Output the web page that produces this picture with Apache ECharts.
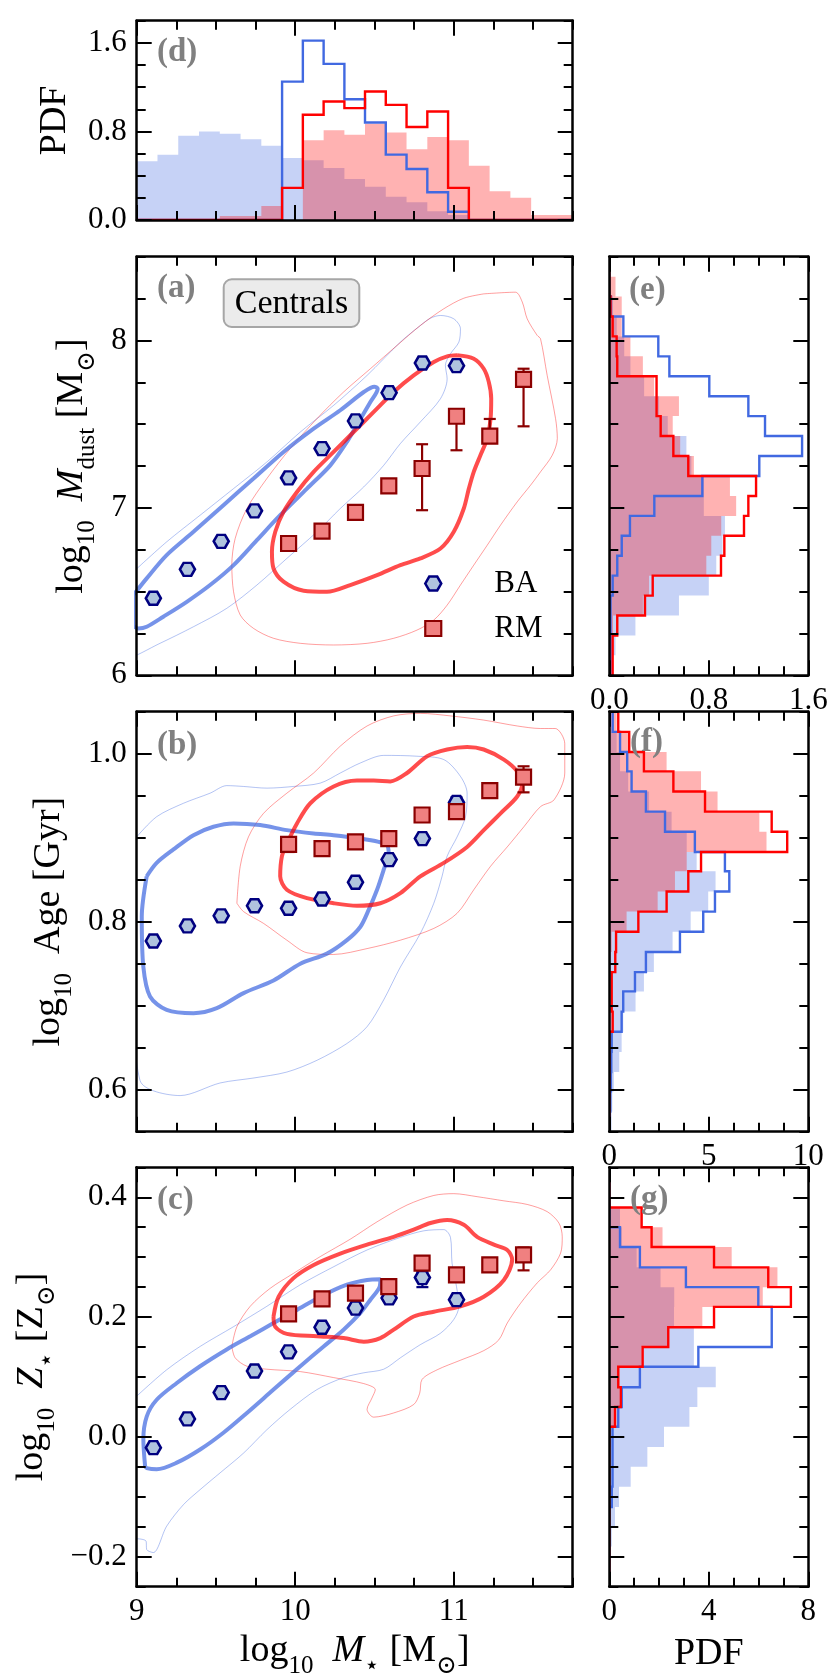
<!DOCTYPE html>
<html><head><meta charset="utf-8">
<script src="https://cdn.jsdelivr.net/npm/echarts@6/dist/echarts.min.js"></script>
<style>html,body{margin:0;padding:0;background:#fff}#chart{width:831px;height:1680px}</style>
</head><body><div id="chart"></div>
<script>
// ================= DATA =================
// stellar-mass bin centres of the binned medians
const massBA = [9.105, 9.32, 9.533, 9.743, 9.958, 10.169, 10.38, 10.592, 10.802, 11.017];
const massRM = [9.958, 10.169, 10.38, 10.59, 10.80, 11.017, 11.227, 11.44];
// (a) dust mass
const dustBA = [6.46, 6.633, 6.80, 6.982, 7.179, 7.354, 7.519, 7.688, 7.865, 7.849];
const dustRM = [6.787, 6.861, 6.973, 7.131, 7.235, 7.547, 7.428, 7.767];
const dustRMLo = [null, null, null, null, 6.986, 7.344, 7.40, 7.487];
const dustRMHi = [null, null, null, null, 7.38, 7.59, 7.531, 7.831];
// (b) age
const ageBA = [0.777, 0.795, 0.807, 0.819, 0.816, 0.827, 0.847, 0.874, 0.899, 0.942];
const ageBALo = [null, null, null, null, null, null, null, null, null, 0.936];
const ageBAHi = [null, null, null, null, null, null, null, null, null, 0.948];
const ageRM = [0.892, 0.887, 0.895, 0.899, 0.927, 0.931, 0.956, 0.972];
const ageRMLo = [0.883, null, null, null, null, null, null, 0.954];
const ageRMHi = [0.900, null, null, null, null, null, null, 0.985];
// (c) metallicity
const zBA = [-0.018, 0.030, 0.074, 0.110, 0.142, 0.183, 0.215, 0.232, 0.266, 0.229];
const zBALo = [null, null, null, null, null, null, null, null, 0.25, null];
const zBAHi = [null, null, null, null, null, null, null, null, 0.275, null];
const zRM = [0.2055, 0.2305, 0.24, 0.251, 0.29, 0.2705, 0.2872, 0.3038];
const zRMLo = [null, null, null, null, null, null, null, 0.278];
const zRMHi = [null, null, null, null, null, null, null, 0.316];

// histogram bin edges
const massEdges = [9.000,9.131,9.262,9.393,9.524,9.655,9.786,9.917,10.048,10.179,10.310,10.440,10.571,10.702,10.833,10.964,11.095,11.226,11.357,11.488,11.619,11.750];
const dustEdges = [6.000,6.119,6.238,6.357,6.476,6.595,6.714,6.833,6.952,7.071,7.190,7.310,7.429,7.548,7.667,7.786,7.905,8.024,8.143,8.262,8.381,8.500];
const ageEdges = [0.550,0.574,0.598,0.621,0.645,0.669,0.693,0.717,0.740,0.764,0.788,0.812,0.836,0.860,0.883,0.907,0.931,0.955,0.979,1.002,1.026,1.050];
const zEdges = [-0.250,-0.217,-0.183,-0.150,-0.117,-0.083,-0.050,-0.017,0.017,0.050,0.083,0.117,0.150,0.183,0.217,0.250,0.283,0.317,0.350,0.383,0.417,0.450];

// (d) PDF of stellar mass
const pdfMassBAFill = [0.53,0.59,0.76,0.80,0.78,0.73,0.67,0.56,0.54,0.47,0.37,0.30,0.21,0.16,0.08,0.045,0.01,0,0,0,0];
const pdfMassRMFill = [0,0,0,0,0.036,0.036,0.126,0,0.72,0.81,0.77,0.87,0.79,0.64,0.75,0.72,0.49,0.26,0.20,0.045,0.045];
const pdfMassBALine = [0,0,0,0,0,0,0,1.25,1.62,1.41,1.09,0.88,0.59,0.46,0.25,0.075,0,0,0,0,0];
const pdfMassRMLine = [0,0,0,0,0,0,0,0.29,0.95,1.07,1.01,1.16,1.04,0.84,0.98,0.29,0,0,0,0,0];
// (e) PDF of dust mass (bins from low to high)
const pdfDustBAFill = [0.02,0.05,0.21,0.56,0.80,0.86,0.91,0.93,0.76,0.76,0.66,0.62,0.47,0.40,0.28,0.17,0.12,0.06,0.03,0.01,0];
const pdfDustRMFill = [0,0.01,0.03,0.27,0.32,0.78,0.82,0.90,1.02,0.97,0.68,0.57,0.51,0.56,0.36,0.27,0.17,0.10,0.10,0.05,0];
const pdfDustBALine = [0.01,0.01,0.01,0.01,0.027,0.064,0.10,0.166,0.362,0.748,1.206,1.55,1.252,1.118,0.804,0.483,0.394,0.113,0.013,0,0];
const pdfDustRMLine = [0.027,0.027,0.064,0.287,0.349,0.898,0.925,1.083,1.118,1.18,0.635,0.515,0.413,0.38,0.38,0.064,0.059,0.027,0.01,0,0];
// (f) PDF of age
const pdfAgeBAFill = [0.10,0.15,0.23,0.50,0.62,0.70,1.32,1.74,2.24,3.18,4.09,4.97,5.34,4.39,3.89,3.13,2.00,0.95,0.54,0.37,0.10];
const pdfAgeRMFill = [0,0,0,0,0,0,0,0.03,0.08,0.12,0.87,2.43,3.30,3.89,7.90,7.54,5.44,4.61,2.88,1.00,0.37];
const pdfAgeBALine = [0.03,0.05,0.08,0.10,0.12,0.62,0.70,1.29,1.84,3.55,4.72,5.31,6.03,5.81,4.30,2.80,1.84,1.12,0.90,0.54,0.17];
const pdfAgeRMLine = [0,0,0,0,0,0.17,0.12,0.12,0.30,0.34,1.46,2.88,3.97,4.61,8.94,8.16,4.81,3.22,1.74,1.00,0.45];
// (g) PDF of metallicity
const pdfZBAFill = [0.03,0.05,0.10,0.23,0.39,0.86,1.53,2.20,3.22,3.54,4.28,3.40,3.40,2.60,2.61,2.06,1.10,0.50,0.43,0,0];
const pdfZRMFill = [0,0,0,0,0,0,0,0.05,0.20,0.40,0.40,1.30,2.40,3.74,6.17,6.76,4.92,2.14,1.30,0,0];
const pdfZBALine = [0,0,0,0,0.10,0.13,0.13,0.13,0.36,0.50,1.23,3.58,6.53,6.53,5.99,3.08,1.23,0.43,0,0,0];
const pdfZRMLine = [0,0,0,0,0,0,0,0,0.23,0.46,0.36,1.34,2.37,4.21,7.30,6.39,4.21,1.70,1.30,0,0];

// density contours (inner = thick, outer = thin), [logM*, value]
const contA_BA_in = [[8.979,6.479],[9.063,6.579],[9.189,6.718],[9.358,6.857],[9.547,7.016],[9.737,7.175],[9.926,7.334],[10.116,7.473],[10.284,7.583],[10.432,7.692],[10.499,7.724],[10.52,7.712],[10.474,7.632],[10.4,7.513],[10.326,7.394],[10.221,7.254],[10.074,7.115],[9.905,6.956],[9.758,6.807],[9.611,6.658],[9.463,6.539],[9.316,6.439],[9.168,6.35],[9.063,6.29],[9.011,6.28],[8.979,6.3],[8.979,6.479]];
const contA_BA_out = [[8.979,6.618],[9.189,6.797],[9.4,6.956],[9.611,7.115],[9.821,7.274],[10.032,7.453],[10.242,7.612],[10.453,7.791],[10.663,7.99],[10.789,8.089],[10.853,8.133],[10.916,8.149],[11.0,8.129],[11.042,8.07],[11.032,7.99],[10.979,7.92],[10.947,7.851],[10.958,7.771],[10.916,7.652],[10.789,7.513],[10.663,7.384],[10.558,7.254],[10.432,7.125],[10.284,6.996],[10.137,6.857],[9.947,6.698],[9.758,6.539],[9.568,6.4],[9.358,6.29],[9.147,6.191],[8.937,6.101],[8.9,6.3],[8.979,6.618]];
const contA_RM_in = [[11.021,7.911],[11.126,7.891],[11.189,7.831],[11.221,7.751],[11.236,7.652],[11.232,7.533],[11.211,7.414],[11.168,7.314],[11.126,7.215],[11.095,7.115],[11.063,6.996],[11.0,6.857],[10.916,6.757],[10.789,6.698],[10.663,6.658],[10.516,6.598],[10.347,6.539],[10.2,6.499],[10.053,6.505],[9.926,6.559],[9.863,6.638],[9.853,6.738],[9.874,6.857],[9.926,6.976],[10.011,7.095],[10.116,7.215],[10.242,7.334],[10.368,7.453],[10.495,7.573],[10.621,7.692],[10.747,7.791],[10.874,7.871],[10.958,7.905],[11.021,7.911]];
const contA_RM_out = [[11.189,8.278],[11.389,8.288],[11.432,8.229],[11.463,8.129],[11.526,8.03],[11.547,8.01],[11.589,7.791],[11.642,7.533],[11.653,7.414],[11.621,7.314],[11.547,7.215],[11.484,7.135],[11.4,7.036],[11.295,6.897],[11.211,6.777],[11.126,6.658],[11.042,6.539],[10.958,6.419],[10.874,6.33],[10.768,6.27],[10.621,6.221],[10.453,6.191],[10.242,6.181],[10.032,6.191],[9.863,6.221],[9.737,6.28],[9.653,6.36],[9.611,6.499],[9.6,6.658],[9.621,6.817],[9.695,6.996],[9.821,7.175],[9.968,7.354],[10.137,7.533],[10.305,7.692],[10.474,7.831],[10.642,7.97],[10.789,8.089],[10.937,8.189],[11.063,8.252],[11.189,8.278]];
const contB_BA_in = [[9.063,0.854],[9.032,0.806],[9.042,0.746],[9.084,0.711],[9.189,0.695],[9.358,0.691],[9.505,0.697],[9.674,0.715],[9.863,0.730],[10.032,0.750],[10.2,0.762],[10.326,0.778],[10.411,0.794],[10.463,0.814],[10.516,0.838],[10.558,0.862],[10.589,0.882],[10.579,0.891],[10.526,0.895],[10.411,0.899],[10.242,0.903],[10.116,0.905],[9.947,0.909],[9.779,0.915],[9.611,0.917],[9.484,0.913],[9.358,0.903],[9.232,0.886],[9.126,0.870],[9.063,0.854]];
const contB_BA_out = [[9.0,0.901],[9.126,0.925],[9.295,0.941],[9.463,0.953],[9.568,0.962],[9.674,0.961],[9.821,0.959],[9.989,0.961],[10.158,0.965],[10.284,0.977],[10.411,0.989],[10.558,0.998],[10.768,0.997],[10.937,0.993],[11.042,0.973],[11.084,0.953],[11.074,0.925],[11.021,0.901],[10.958,0.878],[10.926,0.854],[10.874,0.822],[10.789,0.786],[10.663,0.746],[10.558,0.707],[10.453,0.675],[10.326,0.655],[10.137,0.635],[9.947,0.621],[9.74,0.614],[9.526,0.608],[9.274,0.593],[9.021,0.611],[8.98,0.727],[8.99,0.846],[9.0,0.901]];
const contB_RM_in = [[9.947,0.893],[9.916,0.878],[9.905,0.854],[9.947,0.838],[10.074,0.828],[10.242,0.822],[10.389,0.819],[10.537,0.822],[10.663,0.834],[10.789,0.854],[10.937,0.870],[11.084,0.889],[11.189,0.909],[11.295,0.929],[11.4,0.949],[11.432,0.965],[11.4,0.979],[11.316,0.993],[11.189,1.005],[11.084,1.008],[10.958,1.005],[10.832,0.997],[10.705,0.977],[10.6,0.967],[10.495,0.968],[10.389,0.968],[10.242,0.961],[10.095,0.941],[10.011,0.917],[9.947,0.893]];
const contB_RM_out = [[9.632,0.822],[9.653,0.866],[9.705,0.901],[9.8,0.929],[9.947,0.953],[10.116,0.977],[10.284,1.009],[10.453,1.033],[10.621,1.045],[10.789,1.048],[10.979,1.045],[11.189,1.040],[11.4,1.033],[11.547,1.030],[11.64,1.030],[11.70,1.012],[11.70,0.977],[11.632,0.945],[11.547,0.937],[11.442,0.913],[11.337,0.889],[11.232,0.866],[11.126,0.838],[11.021,0.81],[10.874,0.792],[10.663,0.778],[10.453,0.768],[10.242,0.761],[10.074,0.763],[9.947,0.778],[9.8,0.798],[9.674,0.812],[9.632,0.822]];
const contC_BA_in = [[9.053,-0.049],[9.042,-0.004],[9.063,0.034],[9.126,0.062],[9.253,0.09],[9.4,0.118],[9.568,0.146],[9.716,0.168],[9.863,0.19],[10.011,0.212],[10.158,0.234],[10.326,0.254],[10.453,0.262],[10.537,0.263],[10.533,0.251],[10.474,0.229],[10.411,0.207],[10.305,0.179],[10.179,0.151],[10.032,0.118],[9.863,0.079],[9.695,0.04],[9.547,0.007],[9.4,-0.021],[9.253,-0.043],[9.126,-0.054],[9.063,-0.052],[9.053,-0.049]];
const contC_BA_out = [[9.0,0.068],[9.189,0.112],[9.4,0.151],[9.611,0.184],[9.821,0.218],[10.032,0.254],[10.242,0.284],[10.453,0.312],[10.663,0.333],[10.811,0.344],[10.937,0.346],[10.979,0.333],[10.989,0.29],[11.017,0.251],[11.032,0.218],[11.0,0.196],[10.916,0.173],[10.789,0.154],[10.663,0.132],[10.558,0.113],[10.432,0.107],[10.305,0.099],[10.137,0.079],[9.968,0.046],[9.821,0.012],[9.674,-0.027],[9.526,-0.06],[9.4,-0.088],[9.295,-0.113],[9.189,-0.149],[9.105,-0.193],[9.063,-0.188],[9.059,-0.174],[9.0,-0.17],[8.968,-0.17],[8.968,0.068],[9.0,0.068]];
const contC_RM_in = [[9.863,0.201],[9.874,0.184],[9.947,0.172],[10.137,0.168],[10.305,0.165],[10.432,0.159],[10.537,0.165],[10.621,0.179],[10.747,0.201],[10.874,0.209],[11.042,0.218],[11.189,0.234],[11.316,0.262],[11.368,0.296],[11.337,0.312],[11.253,0.321],[11.147,0.334],[11.063,0.354],[10.958,0.362],[10.853,0.357],[10.747,0.346],[10.621,0.334],[10.453,0.321],[10.284,0.306],[10.116,0.287],[9.989,0.265],[9.895,0.234],[9.863,0.201]];
const contC_RM_out = [[9.6,0.151],[9.632,0.184],[9.716,0.218],[9.842,0.248],[9.989,0.273],[10.158,0.301],[10.347,0.33],[10.516,0.359],[10.705,0.387],[10.874,0.403],[11.0,0.406],[11.147,0.401],[11.316,0.394],[11.463,0.388],[11.589,0.376],[11.663,0.357],[11.684,0.334],[11.674,0.307],[11.611,0.279],[11.526,0.257],[11.421,0.223],[11.337,0.19],[11.284,0.162],[11.189,0.144],[11.042,0.128],[10.895,0.112],[10.8,0.096],[10.785,0.073],[10.747,0.054],[10.621,0.04],[10.495,0.033],[10.453,0.046],[10.484,0.065],[10.505,0.079],[10.432,0.089],[10.242,0.099],[10.032,0.109],[9.821,0.113],[9.695,0.118],[9.621,0.132],[9.6,0.151]];

// axis ticks and labels
const massTicks = [9, 10, 11], massTickLabels = ['9', '10', '11'];
const pdfMassTicks = [0, 0.8, 1.6], pdfMassTickLabels = ['0.0', '0.8', '1.6'];
const dustTicks = [6, 7, 8], dustTickLabels = ['6', '7', '8'];
const ageTicks = [0.6, 0.8, 1.0], ageTickLabels = ['0.6', '0.8', '1.0'];
const zTicks = [-0.2, 0, 0.2, 0.4], zTickLabels = ['\u22120.2', '0.0', '0.2', '0.4'];
const pdfDustTicks = [0, 0.8, 1.6], pdfDustTickLabels = ['0.0', '0.8', '1.6'];
const pdfAgeTicks = [0, 5, 10], pdfAgeTickLabels = ['0', '5', '10'];
const pdfZTicks = [0, 4, 8], pdfZTickLabels = ['0', '4', '8'];

// ================= CHART =================
const FF = "'Liberation Serif','DejaVu Serif',serif";
const HEX = 'path://M0,8.66L5,0L15,0L20,8.66L15,17.32L5,17.32Z';
function steps(a, b, s) { const o = []; const n = Math.round((b - a) / s); for (let i = 0; i <= n; i++) o.push(+(a + i * s).toFixed(6)); return o; }
const X_MASS = { min: 9, max: 11.75, ticks: massTicks, labels: massTickLabels, minor: steps(9, 11.75, 0.25) };
const Y_PDFM = { min: 0, max: 1.8, ticks: pdfMassTicks, labels: pdfMassTickLabels, minor: steps(0, 1.8, 0.2) };
const Y_DUST = { min: 6, max: 8.5, ticks: dustTicks, labels: dustTickLabels, minor: steps(6, 8.5, 0.25) };
const Y_AGE = { min: 0.55, max: 1.05, ticks: ageTicks, labels: ageTickLabels, minor: steps(0.55, 1.05, 0.05) };
const Y_Z = { min: -0.25, max: 0.45, ticks: zTicks, labels: zTickLabels, minor: steps(-0.25, 0.45, 0.05) };
const X_PDFD = { min: 0, max: 1.6, ticks: pdfDustTicks, labels: pdfDustTickLabels, minor: steps(0, 1.6, 0.2) };
const X_PDFA = { min: 0, max: 10, ticks: pdfAgeTicks, labels: pdfAgeTickLabels, minor: steps(0, 10, 1.25) };
const X_PDFZ = { min: 0, max: 8, ticks: pdfZTicks, labels: pdfZTickLabels, minor: steps(0, 8, 1) };

const RICH = {
  n: { fontFamily: FF, fontSize: 38, lineHeight: 44, verticalAlign: 'top', color: '#000' },
  i: { fontFamily: FF, fontSize: 38, lineHeight: 44, verticalAlign: 'top', fontStyle: 'italic', color: '#000' },
  s: { fontFamily: FF, fontSize: 25, lineHeight: 25, verticalAlign: 'top', padding: [22, 0, 0, 0], color: '#000' }
};

const grids = [], xAxes = [], yAxes = [], series = [];
function mkAxis(dim, gi, pos, spec, major, o) {
  const ax = {
    type: 'value', gridIndex: gi, position: pos, min: spec.min, max: spec.max, z: 10, silent: true,
    axisLine: { show: major, onZero: false, lineStyle: { color: '#000', width: 2.5 } },
    axisTick: { show: true, inside: true, length: major ? 15 : 9, customValues: major ? spec.ticks : spec.minor, lineStyle: { color: '#000', width: 2 } },
    axisLabel: { show: false }, splitLine: { show: false }, minorTick: { show: false }, axisPointer: { show: false }
  };
  if (o && o.labels) {
    ax.axisLabel = { show: true, customValues: spec.ticks, margin: 10, fontFamily: FF, fontSize: 31, color: '#000', hideOverlap: false,
      formatter: v => { const i = spec.ticks.findIndex(t => Math.abs(t - v) < 1e-7); return i < 0 ? '' : spec.labels[i]; } };
  }
  if (o && o.name) {
    ax.name = o.name; ax.nameLocation = 'middle'; ax.nameGap = o.gap;
    if (dim === 'y') ax.nameRotate = 90;
    ax.nameTextStyle = { fontFamily: FF, fontSize: 38, lineHeight: 44, color: '#000', rich: RICH };
  }
  return ax;
}
function addPanel(rect, xs, ys, o) {
  const gi = grids.length;
  grids.push({ left: rect[0], top: rect[1], width: rect[2], height: rect[3] });
  const xi = xAxes.length;
  xAxes.push(mkAxis('x', gi, 'bottom', xs, true, o.xb));
  xAxes.push(mkAxis('x', gi, 'bottom', xs, false));
  xAxes.push(mkAxis('x', gi, 'top', xs, true));
  xAxes.push(mkAxis('x', gi, 'top', xs, false));
  const yi = yAxes.length;
  yAxes.push(mkAxis('y', gi, 'left', ys, true, o.yl));
  yAxes.push(mkAxis('y', gi, 'left', ys, false));
  yAxes.push(mkAxis('y', gi, 'right', ys, true));
  yAxes.push(mkAxis('y', gi, 'right', ys, false));
  return { x: xi, y: yi };
}

const L = 136.7, W = 436, RL = 609.3, RW = 199;
const PD = addPanel([L, 20.7, W, 199.3], X_MASS, Y_PDFM, { yl: { labels: true, name: 'PDF', gap: 57 } });
const PA = addPanel([L, 256.7, W, 418.6], X_MASS, Y_DUST, { yl: { labels: true, gap: 35, name: '{n|log}{s|10}{n|  }{i|M}{s|dust}{n| [M}{s|\u2299}{n|]}' } });
const PB = addPanel([L, 711.7, W, 420], X_MASS, Y_AGE, { yl: { labels: true, gap: 51, name: '{n|log}{s|10}{n|  Age [Gyr]}' } });
const PC = addPanel([L, 1167.3, W, 419.4], X_MASS, Y_Z, {
  yl: { labels: true, gap: 66, name: '{n|log}{s|10}{n|  }{i|Z}{s|\u22c6}{n| [Z}{s|\u2299}{n|]}' },
  xb: { labels: true, gap: 45, name: '{n|log}{s|10}{n|  }{i|M}{s|\u22c6}{n| [M}{s|\u2299}{n|]}' } });
const PE = addPanel([RL, 256.7, RW, 418.6], X_PDFD, Y_DUST, { xb: { labels: true } });
const PF = addPanel([RL, 711.7, RW, 420], X_PDFA, Y_AGE, { xb: { labels: true } });
const PG = addPanel([RL, 1167.3, RW, 419.4], X_PDFZ, Y_Z, { xb: { labels: true, gap: 45, name: 'PDF' } });

const BLUE_FILL = 'rgba(65,105,225,0.3)', RED_FILL = 'rgba(255,0,0,0.3)';
function hist(P, edges, vals, horizontal, fill, stroke, z) {
  series.push({
    type: 'custom', xAxisIndex: P.x, yAxisIndex: P.y, data: [[0, 0]], silent: true, clip: true, z: z,
    renderItem: (params, api) => {
      const pt = (e, v) => horizontal ? api.coord([v, e]) : api.coord([e, v]);
      const pts = [pt(edges[0], 0)];
      vals.forEach((v, i) => { pts.push(pt(edges[i], v)); pts.push(pt(edges[i + 1], v)); });
      pts.push(pt(edges[edges.length - 1], 0));
      if (fill) return { type: 'polygon', shape: { points: pts }, style: { fill: fill } };
      return { type: 'polyline', shape: { points: pts }, style: { stroke: stroke, lineWidth: 2.4, fill: null, lineJoin: 'miter' } };
    }
  });
}
function contour(P, pts, color, width) {
  series.push({ type: 'line', xAxisIndex: P.x, yAxisIndex: P.y, data: pts, showSymbol: false, symbol: 'none', smooth: 0.3,
    lineStyle: { color: color, width: width }, z: 3, silent: true, clip: true });
}
function errbars(P, xs, lo, hi, color) {
  const data = [];
  xs.forEach((x, i) => { if (lo[i] != null) data.push([x, lo[i], hi[i]]); });
  series.push({ type: 'custom', xAxisIndex: P.x, yAxisIndex: P.y, data: data, silent: true, z: 4,
    renderItem: (params, api) => {
      const a = api.coord([api.value(0), api.value(1)]), b = api.coord([api.value(0), api.value(2)]);
      const st = { stroke: color, lineWidth: 2.2 };
      return { type: 'group', children: [
        { type: 'line', shape: { x1: a[0], y1: a[1], x2: b[0], y2: b[1] }, style: st },
        { type: 'line', shape: { x1: a[0] - 6, y1: a[1], x2: a[0] + 6, y2: a[1] }, style: st },
        { type: 'line', shape: { x1: b[0] - 6, y1: b[1], x2: b[0] + 6, y2: b[1] }, style: st }
      ] };
    } });
}
function pts(px, py) { return px.map((x, i) => [x, py[i]]); }
function scatterBA(P, ys) {
  series.push({ type: 'scatter', name: 'BA', xAxisIndex: P.x, yAxisIndex: P.y, data: pts(massBA, ys), symbol: HEX, symbolSize: [15, 13],
    itemStyle: { color: '#b0c4de', borderColor: '#000080', borderWidth: 2.5, opacity: 1 }, z: 5, silent: true });
}
function scatterRM(P, ys) {
  series.push({ type: 'scatter', name: 'RM', xAxisIndex: P.x, yAxisIndex: P.y, data: pts(massRM, ys), symbol: 'rect', symbolSize: 15,
    itemStyle: { color: '#f08080', borderColor: '#8b0000', borderWidth: 2.2, opacity: 1 }, z: 6, silent: true });
}

// (d)
hist(PD, massEdges, pdfMassBAFill, false, BLUE_FILL, null, 1);
hist(PD, massEdges, pdfMassRMFill, false, RED_FILL, null, 1);
hist(PD, massEdges, pdfMassBALine, false, null, '#4169e1', 2);
hist(PD, massEdges, pdfMassRMLine, false, null, '#ff0000', 2);
// (e),(f),(g)
hist(PE, dustEdges, pdfDustBAFill, true, BLUE_FILL, null, 1);
hist(PE, dustEdges, pdfDustRMFill, true, RED_FILL, null, 1);
hist(PE, dustEdges, pdfDustBALine, true, null, '#4169e1', 2);
hist(PE, dustEdges, pdfDustRMLine, true, null, '#ff0000', 2);
hist(PF, ageEdges, pdfAgeBAFill, true, BLUE_FILL, null, 1);
hist(PF, ageEdges, pdfAgeRMFill, true, RED_FILL, null, 1);
hist(PF, ageEdges, pdfAgeBALine, true, null, '#4169e1', 2);
hist(PF, ageEdges, pdfAgeRMLine, true, null, '#ff0000', 2);
hist(PG, zEdges, pdfZBAFill, true, BLUE_FILL, null, 1);
hist(PG, zEdges, pdfZRMFill, true, RED_FILL, null, 1);
hist(PG, zEdges, pdfZBALine, true, null, '#4169e1', 2);
hist(PG, zEdges, pdfZRMLine, true, null, '#ff0000', 2);

// contours
const BT = 'rgba(65,105,225,0.72)', BN = 'rgba(65,105,225,0.4)', RT = 'rgba(255,0,0,0.7)', RN = 'rgba(255,0,0,0.38)';
[[PA, contA_BA_out, contA_BA_in, contA_RM_out, contA_RM_in], [PB, contB_BA_out, contB_BA_in, contB_RM_out, contB_RM_in], [PC, contC_BA_out, contC_BA_in, contC_RM_out, contC_RM_in]].forEach(r => {
  contour(r[0], r[1], BN, 1); contour(r[0], r[3], RN, 1); contour(r[0], r[2], BT, 4); contour(r[0], r[4], RT, 4);
});

// binned medians
errbars(PA, massRM, dustRMLo, dustRMHi, '#8b0000');
errbars(PB, massBA, ageBALo, ageBAHi, '#000080');
errbars(PB, massRM, ageRMLo, ageRMHi, '#8b0000');
errbars(PC, massBA, zBALo, zBAHi, '#000080');
errbars(PC, massRM, zRMLo, zRMHi, '#8b0000');
scatterBA(PA, dustBA); scatterRM(PA, dustRM);
scatterBA(PB, ageBA); scatterRM(PB, ageRM);
scatterBA(PC, zBA); scatterRM(PC, zRM);

function tag(t, x, y) { return { type: 'text', left: x, top: y, z: 100, silent: true, style: { text: t, font: "bold 33px 'Liberation Serif', serif", fill: '#808080' } }; }

const option = {
  animation: false,
  backgroundColor: '#fff',
  textStyle: { fontFamily: FF },
  grid: grids, xAxis: xAxes, yAxis: yAxes, series: series,
  legend: {
    data: [
      { name: 'BA', icon: HEX, itemStyle: { color: '#b0c4de', borderColor: '#000080', borderWidth: 2.5 } },
      { name: 'RM', icon: 'rect', itemStyle: { color: '#f08080', borderColor: '#8b0000', borderWidth: 2.2 } }
    ],
    orient: 'vertical', left: 424, top: 568, itemWidth: 16, itemHeight: 15, itemGap: 14, padding: 0, selectedMode: false,
    textStyle: { fontFamily: FF, fontSize: 31, lineHeight: 31, color: '#000', padding: [0, 0, 0, 48] }
  },
  graphic: [
    tag('(d)', 157, 36), tag('(a)', 157, 272), tag('(b)', 157, 729), tag('(c)', 157, 1184),
    tag('(e)', 629, 274), tag('(f)', 630, 726), tag('(g)', 630, 1183),
    { type: 'group', left: 222.7, top: 278.3, z: 100, silent: true, children: [
      { type: 'rect', shape: { x: 0, y: 0, width: 135.6, height: 47.7, r: 8 }, style: { fill: '#ebebeb', stroke: '#a6a6a6', lineWidth: 2 } },
      { type: 'text', x: 67.8, y: 24.5, style: { text: 'Centrals', font: "34px 'Liberation Serif', serif", fill: '#000', align: 'center', verticalAlign: 'middle', textAlign: 'center', textVerticalAlign: 'middle' } }
    ] }
  ]
};
const chart = echarts.init(document.getElementById('chart'), null, { renderer: 'canvas' });
chart.setOption(option);
</script></body></html>
